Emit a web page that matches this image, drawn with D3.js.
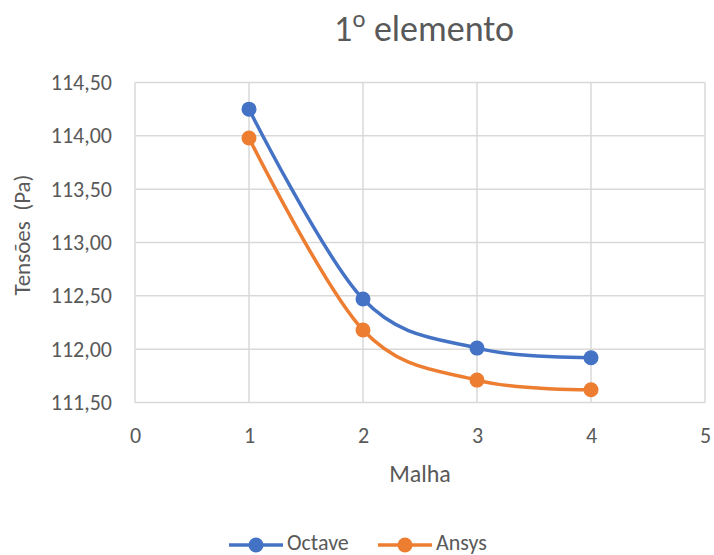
<!DOCTYPE html>
<html>
<head>
<meta charset="utf-8">
<script src="https://cdn.jsdelivr.net/npm/d3@7"></script>
<style>
  html, body { margin: 0; padding: 0; background: #fff; }
  svg text { font-family: Carlito, Calibri, Lato, "Open Sans", sans-serif; fill: #595959; }
</style>
</head>
<body>
<svg id="chart" width="714" height="555"></svg>
<script>
// Mesh refinement levels and the stress found at the first element
const malha = [1, 2, 3, 4];
const octave = [114.25, 112.47, 112.01, 111.92];
const ansys = [113.98, 112.18, 111.71, 111.62];
const xTicks = [0, 1, 2, 3, 4, 5];
const yTicks = [111.5, 112.0, 112.5, 113.0, 113.5, 114.0, 114.5];

const series = [
  { name: "Octave", values: octave, color: "#4472C4" },
  { name: "Ansys", values: ansys, color: "#ED7D31" }
];

const svg = d3.select("#chart");
const plot = { left: 135, right: 705, top: 82.5, bottom: 402.5 };

const x = d3.scaleLinear().domain([0, 5]).range([plot.left, plot.right]);
const y = d3.scaleLinear().domain([111.5, 114.5]).range([plot.bottom, plot.top]);
const fmt = v => d3.format(".2f")(v).replace(".", ",");

// Grid lines
const grid = svg.append("g");
grid.selectAll("line.h").data(yTicks).join("line")
  .attr("x1", plot.left).attr("x2", plot.right)
  .attr("y1", d => y(d)).attr("y2", d => y(d))
  .attr("stroke", "#D9D9D9").attr("stroke-width", 1.5);
grid.selectAll("line.v").data(xTicks).join("line")
  .attr("y1", plot.top).attr("y2", plot.bottom)
  .attr("x1", d => x(d)).attr("x2", d => x(d))
  .attr("stroke", "#D9D9D9").attr("stroke-width", 1.5);

// Axes (labels only, lines come from the grid)
const yAxis = svg.append("g").attr("transform", `translate(${plot.left},0)`)
  .call(d3.axisLeft(y).tickValues(yTicks).tickFormat(fmt).tickSize(0).tickPadding(23));
yAxis.select(".domain").remove();
yAxis.selectAll("text").attr("font-size", 22).style("font-family", null);

const xAxis = svg.append("g").attr("transform", `translate(0,${plot.bottom})`)
  .call(d3.axisBottom(x).tickValues(xTicks).tickFormat(d3.format("d")).tickSize(0).tickPadding(25));
xAxis.select(".domain").remove();
xAxis.selectAll("text").attr("font-size", 22).style("font-family", null);

// Smoothed series lines with markers
const line = d3.line()
  .x((d, i) => x(malha[i]))
  .y(d => y(d))
  .curve(d3.curveCatmullRom.alpha(0));

series.forEach(s => {
  svg.append("path").datum(s.values)
    .attr("d", line).attr("fill", "none")
    .attr("stroke", s.color).attr("stroke-width", 3.5)
    .attr("stroke-linecap", "round");
  svg.append("g").selectAll("circle").data(s.values).join("circle")
    .attr("cx", (d, i) => x(malha[i])).attr("cy", d => y(d))
    .attr("r", 7.5).attr("fill", s.color);
});

// Titles
const title = svg.append("text").attr("x", 424).attr("y", 41)
  .attr("text-anchor", "middle").attr("font-size", 36);
title.append("tspan").text("1");
title.append("tspan").style("font-family", "'Open Sans', sans-serif").text("º");
title.append("tspan").text(" elemento");

svg.append("text").attr("x", 420).attr("y", 482)
  .attr("text-anchor", "middle").attr("font-size", 24).text("Malha");
svg.append("text")
  .attr("transform", "translate(30,235) rotate(-90)")
  .attr("text-anchor", "middle").attr("font-size", 23)
  .attr("xml:space", "preserve").style("white-space", "pre").text("Tensões  (Pa)");

// Legend
const legend = [
  { s: series[0], x0: 229 },
  { s: series[1], x0: 378 }
];
legend.forEach(l => {
  const g = svg.append("g");
  g.append("line").attr("x1", l.x0).attr("x2", l.x0 + 54)
    .attr("y1", 545).attr("y2", 545)
    .attr("stroke", l.s.color).attr("stroke-width", 3.5);
  g.append("circle").attr("cx", l.x0 + 27).attr("cy", 545).attr("r", 7.5).attr("fill", l.s.color);
  g.append("text").attr("x", l.x0 + 58).attr("y", 550).attr("font-size", 22).text(l.s.name);
});
</script>
</body>
</html>
